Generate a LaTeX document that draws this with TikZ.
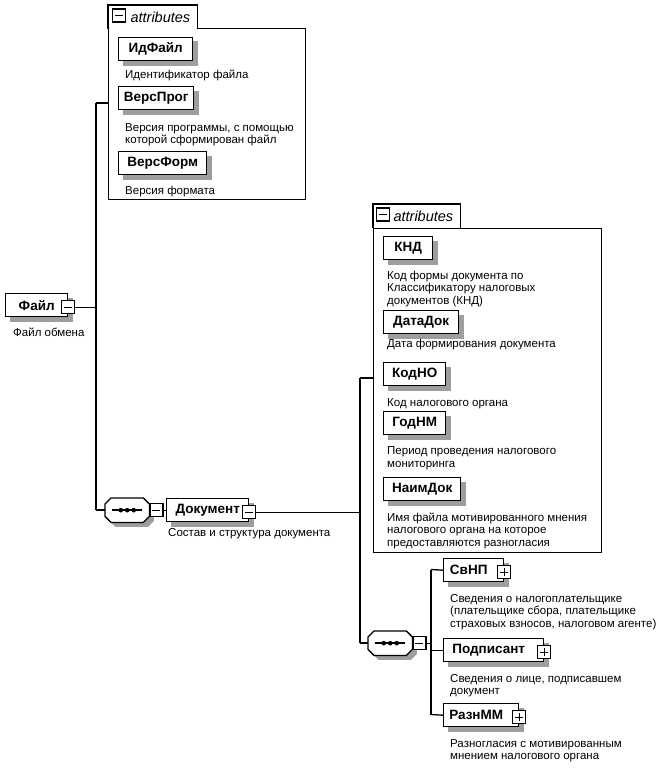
\documentclass[tikz,border=0pt]{standalone}
\usepackage{fontspec}
\setmainfont{Liberation Sans}
\pgfdeclarelayer{grouplayer}
\pgfdeclarelayer{shadowlayer}
\pgfsetlayers{grouplayer,shadowlayer,main}
\newcommand\octpath[3]{([xshift=#2+6pt,yshift=#3]#1.north west) -- ([xshift=#2-6pt,yshift=#3]#1.north east) -- ([xshift=#2,yshift=#3-6pt]#1.north east) -- ([xshift=#2,yshift=#3+6pt]#1.south east) -- ([xshift=#2-6pt,yshift=#3]#1.south east) -- ([xshift=#2+6pt,yshift=#3]#1.south west) -- ([xshift=#2,yshift=#3+6pt]#1.south west) -- ([xshift=#2,yshift=#3-6pt]#1.north west) -- cycle}
\begin{document}
\begin{tikzpicture}[x=1pt,y=-1pt,
  conn/.style={line width=1.3pt},
  shadowcol/.style={fill=black!38},
  elem/.style={draw, line width=1.4pt, fill=white, anchor=north west, minimum height=23pt, inner sep=0pt,
    font=\fontsize{13.5}{15}\selectfont\bfseries},
  desc/.style={anchor=base west, inner sep=0pt, align=left, font=\fontsize{11.5}{12.5}\selectfont},
  grp/.style={draw, line width=1.1pt, fill=white, anchor=north west, inner sep=0pt},
  grpline/.style={line width=1.1pt},
  tab/.style={fill=white, anchor=north west, inner sep=0pt, minimum height=24pt, text width=#1-14pt, minimum width=#1, align=right,
    font=\fontsize{14.5}{16}\selectfont\itshape},
  sq/.style={draw, line width=1.1pt, fill=white, minimum size=13pt, inner sep=0pt},
  minus/.style={sq, path picture={\draw[line width=1.2pt] ([xshift=2.5pt]path picture bounding box.west) -- ([xshift=-2.5pt]path picture bounding box.east);}},
  plus/.style={sq, path picture={\draw[line width=1.2pt] ([xshift=2.5pt]path picture bounding box.west) -- ([xshift=-2.5pt]path picture bounding box.east)
      ([yshift=2.5pt]path picture bounding box.south) -- ([yshift=-2.5pt]path picture bounding box.north);}},
  seq/.style={rectangle, anchor=north west, minimum width=44pt, minimum height=24pt, inner sep=0pt,
    path picture={\draw[line width=1.6pt] ([xshift=7pt]path picture bounding box.west) -- ([xshift=-7pt]path picture bounding box.east);
      \fill (path picture bounding box.center) circle (2.3pt) +(-6.5pt,0) circle (2.3pt) +(6.5pt,0) circle (2.3pt);}},
  seqline/.style={draw, line width=1.3pt, fill=white}
]
\useasboundingbox (0,0) rectangle (666,768);

% ---------- group A (attributes of Файл)
\begin{pgfonlayer}{grouplayer}
\node[grp, minimum width=197pt, minimum height=171pt] (attrA) at (108,28) {};
\node[tab=89pt] (tabA) at (108,5) {attributes};
\draw[grpline] (tabA.south west) |- (tabA.north east) -- (tabA.south east);
\end{pgfonlayer}
\node[minus] (tabAx) at (119,15.5) {};

\node[elem, minimum width=74pt] (idfajl) at (118,37) {ИдФайл};
\node[desc] (idfajld) at (125,78) {Идентификатор файла};
\node[elem, minimum width=75pt] (versprog) at (118,86) {ВерсПрог};
\node[desc] (versprogd) at (125,143.5) {Версия программы, с помощью\\которой сформирован файл};
\node[elem, minimum width=88pt] (versform) at (118,151) {ВерсФорм};
\node[desc] (versformd) at (125,194) {Версия формата};

% ---------- root
\node[elem, minimum width=62pt] (fajl) at (5,293) {Файл};
\node[minus] (fajlx) at ([yshift=-2pt]fajl.east) {};
\node[desc] (fajld) at (13,336) {Файл обмена};

\coordinate (v1top) at (96,103);
\coordinate (v1bot) at (96,510);

% ---------- sequence 1 and Документ
\node[seq] (seq1) at (105,498) {};
\node[minus, anchor=west] (seq1x) at (seq1.east) {};
\node[elem, minimum width=82pt] (doc) at (166,498) {Документ};
\node[minus] (docx) at ([yshift=-2pt]doc.east) {};
\node[desc] (docd) at (168,536) {Состав и структура документа};

% ---------- group B (attributes of Документ)
\begin{pgfonlayer}{grouplayer}
\node[grp, minimum width=228pt, minimum height=324pt] (attrB) at (373,228) {};
\node[tab=87pt] (tabB) at (373,204) {attributes};
\draw[grpline] (tabB.south west) |- (tabB.north east) -- (tabB.south east);
\end{pgfonlayer}
\node[minus] (tabBx) at (383,214.5) {};

\node[elem, minimum width=49pt] (knd) at (383,236) {КНД};
\node[desc] (kndd) at (387,304) {Код формы документа по\\Классификатору налоговых\\документов (КНД)};
\node[elem, minimum width=75pt] (datadok) at (383,310) {ДатаДок};
\node[desc] (datadokd) at (387,347) {Дата формирования документа};
\node[elem, minimum width=62pt] (kodno) at (383,362) {КодНО};
\node[desc] (kodnod) at (387,406) {Код налогового органа};
\node[elem, minimum width=62pt] (godnm) at (383,411) {ГодНМ};
\node[desc] (godnmd) at (387,467) {Период проведения налогового\\мониторинга};
\node[elem, minimum width=77pt] (naimdok) at (383,477) {НаимДок};
\node[desc] (naimdokd) at (387,546) {Имя файла мотивированного мнения\\налогового органа на которое\\предоставляются разногласия};

\coordinate (v2top) at (360,378);
\coordinate (v2bot) at (360,643);

% ---------- sequence 2 and children
\node[seq] (seq2) at (368,631) {};
\node[minus, anchor=west] (seq2x) at (seq2.east) {};
\coordinate (v3top) at (431,569.5);
\coordinate (v3bot) at (431,714.5);

\node[elem, minimum width=60pt] (svnp) at (443,558) {СвНП\hspace*{10pt}};
\node[plus] (svnpx) at ([yshift=-2pt]svnp.east) {};
\node[desc] (svnpd) at (450,627) {Сведения о налогоплательщике\\(плательщике сбора, плательщике\\страховых взносов, налоговом агенте)};
\node[elem, minimum width=100pt] (podp) at (443,638) {Подписант\hspace*{10pt}};
\node[plus] (podpx) at ([yshift=-2pt]podp.east) {};
\node[desc] (podpd) at (450,694.5) {Сведения о лице, подписавшем\\документ};
\node[elem, minimum width=75pt] (raznmm) at (443,703) {РазнММ\hspace*{10pt}};
\node[plus] (raznmmx) at ([yshift=-2pt]raznmm.east) {};
\node[desc] (raznmmd) at (450,759.5) {Разногласия с мотивированным\\мнением налогового органа};

% ---------- shadows and sequence outlines
\begin{pgfonlayer}{shadowlayer}
\foreach \n in {idfajl,versprog,versform,fajl,doc,knd,datadok,kodno,godnm,naimdok,svnp,podp,raznmm}
  \fill[shadowcol] ([shift={(4.5pt,-4.5pt)}]\n.south west) rectangle ([shift={(4.5pt,-4.5pt)}]\n.north east);
\foreach \n in {seq1,seq2} {
  \fill[shadowcol] \octpath{\n}{4.5pt}{-4.5pt};
  \path[seqline] \octpath{\n}{0pt}{0pt};
}
\end{pgfonlayer}

% ---------- connectors
\draw[conn] (fajlx.east) -- (fajlx.east -| v1top);
\draw[conn] (v1top) -- (v1bot);
\draw[conn] (v1top) -- (v1top -| attrA.west);
\draw[conn] (v1bot) -- (v1bot -| seq1.west);
\draw[conn] (seq1x.east) -- (seq1x.east -| doc.west);
\draw[conn] (docx.east) -- (docx.east -| v2top);
\draw[conn] (v2top) -- (v2bot);
\draw[conn] (v2top) -- (v2top -| attrB.west);
\draw[conn] (v2bot) -- (v2bot -| seq2.west);
\draw[conn] (seq2x.east) -- (seq2x.east -| v3top);
\draw[conn] (v3top) -- (v3bot);
\draw[conn] (v3top) -- (svnp.west);
\draw[conn] (v3top |- podp.west) -- (podp.west);
\draw[conn] (v3bot) -- (raznmm.west);
\end{tikzpicture}
\end{document}
